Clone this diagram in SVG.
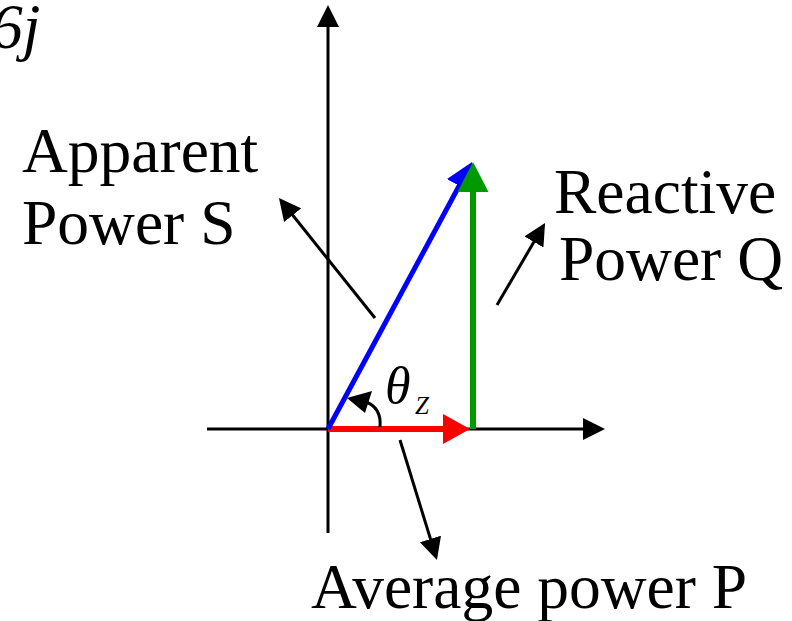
<svg xmlns="http://www.w3.org/2000/svg" width="792" height="621" viewBox="0 0 792 621">
<style>
text{font-family:'Liberation Serif','Times New Roman','DejaVu Serif',serif;fill:#000}
.lbl{font-size:63.5px}
.it{font-style:italic}
.ax{stroke:#000;stroke-width:3;fill:none}
.ptr{stroke:#000;stroke-width:3;fill:none;marker-end:url(#blk)}
</style>
<defs>
<marker id="blk" markerUnits="userSpaceOnUse" markerWidth="22" markerHeight="22" refX="12" refY="11" orient="auto" viewBox="0 0 22 22"><path d="M0,0 L22,11 L0,22 z" fill="#000"/></marker>
<marker id="red" markerUnits="userSpaceOnUse" markerWidth="27" markerHeight="30" refX="17" refY="15" orient="auto" viewBox="0 0 27 30"><path d="M0,0 L27,15 L0,30 z" fill="#ff0000"/></marker>
<marker id="blue" markerUnits="userSpaceOnUse" markerWidth="27" markerHeight="28" refX="17" refY="14" orient="auto" viewBox="0 0 27 28"><path d="M0,0 L27,14 L0,28 z" fill="#0000ff"/></marker>
<marker id="green" markerUnits="userSpaceOnUse" markerWidth="30" markerHeight="31" refX="20" refY="15.5" orient="auto" viewBox="0 0 30 31"><path d="M0,0 L30,15.5 L0,31 z" fill="#009900"/></marker>
</defs>
<g id="axes">
<line class="ax" x1="328" y1="533" x2="328" y2="15" marker-end="url(#blk)"/>
<line class="ax" x1="207" y1="429" x2="595" y2="429" marker-end="url(#blk)"/>
</g>
<g id="connectors">
<line id="P" x1="328" y1="429" x2="460" y2="429" stroke="#ff0000" stroke-width="6" marker-end="url(#red)"/>
<line id="S" x1="328" y1="429" x2="467.3" y2="170.8" stroke="#0000ff" stroke-width="5" marker-end="url(#blue)"/>
<line id="Q" x1="473" y1="429" x2="473" y2="172" stroke="#009900" stroke-width="6" marker-end="url(#green)"/>
<line class="ptr" x1="375" y1="318" x2="285.2" y2="205.8"/>
<line class="ptr" x1="497" y1="305" x2="540" y2="231.6"/>
<line class="ptr" x1="400" y1="440" x2="434" y2="550.4"/>
<path class="ax" d="M380,427 C381,415 377,406 366,402"/>
<polygon points="347,398 372,391 365,413" fill="#000"/>
</g>
<g id="label-j"><text class="lbl it" x="-9" y="48">6j</text></g>
<g id="label-apparent">
<text class="lbl" x="22" y="172">Apparent</text>
<text class="lbl" x="22" y="244">Power S</text>
</g>
<g id="label-reactive">
<text class="lbl" x="554" y="213">Reactive</text>
<text class="lbl" x="559" y="280">Power Q</text>
</g>
<g id="label-average"><text class="lbl" x="311" y="608">Average power P</text></g>
<g id="label-theta"><text class="it" x="385" y="403" font-size="52">θ</text><text class="it" x="415" y="414" font-size="25">Z</text></g>
</svg>
